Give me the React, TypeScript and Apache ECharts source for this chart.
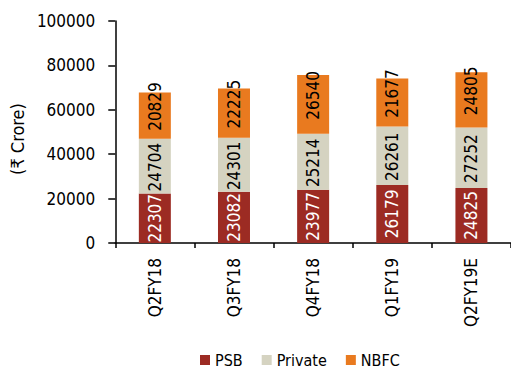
import React, { useEffect, useRef } from "react";
import * as echarts from "echarts";

const quarters = ["Q2FY18", "Q3FY18", "Q4FY18", "Q1FY19", "Q2FY19E"];
const psb = [22307, 23082, 23977, 26179, 24825];
const privateBanks = [24704, 24301, 25214, 26261, 27252];
const nbfc = [20829, 22225, 26540, 21677, 24805];
const yTicks = [0, 20000, 40000, 60000, 80000, 100000];

const FONT = "'DejaVu Sans Condensed', 'Liberation Sans Narrow', sans-serif";

export default function App() {
  const ref = useRef<HTMLDivElement>(null);

  useEffect(() => {
    document.body.style.margin = "0";
    if (!ref.current) return;
    const chart = echarts.init(ref.current, null, { renderer: "svg" });

    // shift is along the reading direction of the rotated label (positive = up)
    const barLabel = (color: string, shift: number) => ({
      show: true,
      position: "inside" as const,
      rotate: 90,
      offset: [shift, 0],
      color,
      fontFamily: FONT,
      fontSize: 17,
      formatter: (p: any) => String(p.value),
    });

    const mk = (name: string, data: number[], color: string, textColor: string, shift: number) => ({
      name,
      type: "bar" as const,
      stack: "total",
      data,
      barWidth: 32,
      itemStyle: { color },
      label: barLabel(textColor, shift),
    });

    chart.setOption({
      animation: false,
      textStyle: { fontFamily: FONT },
      grid: { left: 114, right: 0, top: 21, bottom: 127 },
      legend: {
        data: ["PSB", "Private", "NBFC"],
        left: 195,
        top: 347,
        icon: "rect",
        itemWidth: 10,
        itemHeight: 10,
        itemGap: 19,
        textStyle: { fontFamily: FONT, fontSize: 16, color: "#000" },
      },
      xAxis: {
        type: "category",
        data: quarters,
        axisLine: { lineStyle: { color: "#000", width: 1.5 } },
        axisTick: { show: true, length: 5, lineStyle: { color: "#000", width: 1.5 } },
        axisLabel: {
          rotate: 90,
          margin: 15,
          color: "#000",
          fontFamily: FONT,
          fontSize: 17,
        },
      },
      yAxis: {
        type: "value",
        min: yTicks[0],
        max: yTicks[yTicks.length - 1],
        interval: 20000,
        name: "(₹ Crore)",
        nameLocation: "middle",
        nameRotate: 90,
        nameGap: 84,
        nameTextStyle: { fontFamily: FONT, fontSize: 18, color: "#000", padding: [0, 14, 0, 0] },
        splitLine: { show: false },
        axisLine: { show: true, lineStyle: { color: "#000", width: 1.5 } },
        axisTick: { show: true, length: 7, lineStyle: { color: "#000", width: 1.5 } },
        axisLabel: {
          margin: 20,
          color: "#000",
          fontFamily: FONT,
          fontSize: 17,
          formatter: (v: number) => String(v),
        },
      },
      series: [
        mk("PSB", psb, "#9c2b23", "#fff", 0),
        mk("Private", privateBanks, "#d5d3c1", "#000", -1),
        mk("NBFC", nbfc, "#e97a1f", "#000", 9),
      ],
    });

    return () => chart.dispose();
  }, []);

  return <div ref={ref} style={{ width: 511, height: 370 }} />;
}
